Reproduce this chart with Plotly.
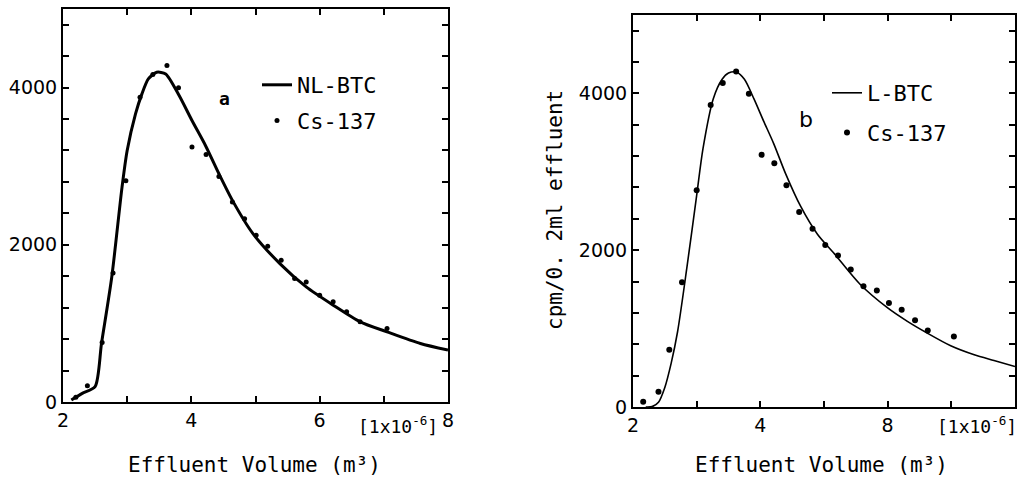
import plotly.graph_objects as go

# ---------------- data ----------------
# Panel a: NL-BTC fitted curve
a_curve_x = [2.13, 2.3, 2.5, 2.6, 2.76, 2.92, 3.0, 3.13, 3.23, 3.33, 3.46, 3.6,
             3.81, 4.01, 4.22, 4.43, 4.64, 4.96, 5.38, 5.79, 6.21, 6.63, 7.05, 7.57, 8.0]
a_curve_y = [25, 110, 195, 745, 1591, 2734, 3200, 3666, 3920, 4111, 4195, 4174,
             3899, 3581, 3264, 2904, 2565, 2142, 1761, 1464, 1232, 1020, 893, 745, 660]
# Panel a: Cs-137 measured points
a_pts_x = [2.2, 2.38, 2.61, 2.78, 2.98, 3.2, 3.4, 3.62, 3.8, 4.01, 4.23, 4.43, 4.64,
           4.83, 5.01, 5.19, 5.4, 5.61, 5.79, 6.0, 6.21, 6.42, 6.63, 7.05]
a_pts_y = [60, 207, 758, 1642, 2815, 3877, 4166, 4280, 3997, 3243, 3150, 2870, 2544,
           2333, 2121, 1981, 1803, 1571, 1528, 1359, 1274, 1147, 1020, 936]

# Panel b: L-BTC fitted curve
b_curve_x = [2.2, 2.3, 2.4, 2.5, 2.6, 2.7, 2.85, 3.0, 3.1, 3.26, 3.4, 3.5, 3.63, 3.75,
             3.9, 4.05, 4.21, 4.4, 4.63, 4.9, 5.15, 5.57, 6.0, 6.31, 6.62, 6.99,
             7.36, 7.67, 8.0]
b_curve_y = [0, 5, 60, 250, 560, 960, 1800, 2700, 3300, 3930, 4180, 4260, 4270, 4180,
             3930, 3650, 3360, 2970, 2564, 2200, 1967, 1562, 1263, 1092, 943, 781,
             666, 593, 516]
# Panel b: Cs-137 measured points
b_pts_x = [2.16, 2.4, 2.57, 2.77, 3.0, 3.22, 3.41, 3.62, 3.82, 4.02, 4.22, 4.41, 4.61,
           4.82, 5.02, 5.22, 5.42, 5.62, 5.83, 6.02, 6.22, 6.43, 6.63, 7.04]
b_pts_y = [68, 196, 730, 1591, 2765, 3853, 4134, 4279, 3994, 3217, 3110, 2829, 2487,
           2274, 2065, 1933, 1754, 1540, 1485, 1327, 1242, 1105, 977, 900]

x_tickvals = [2, 4, 6, 8]
a_x_ticktext = ["2", "4", "6", "8"]
b_x_ticktext = ["2", "4", "8", "8"]
y_tickvals = [0, 2000, 4000]
y_ticktext = ["0", "2000", "4000"]

MONO = "DejaVu Sans Mono"
SANS = "DejaVu Sans"

W, H = 1019, 480


def px(xs):
    return xs / W


def py(ys):
    return 1 - ys / H


fig = go.Figure()

fig.add_trace(go.Scatter(x=a_curve_x, y=a_curve_y, mode="lines", name="NL-BTC",
                         line=dict(color="black", width=3, shape="spline", smoothing=0.7),
                         xaxis="x", yaxis="y", legend="legend", legendgroup="a1"))
fig.add_trace(go.Scatter(x=a_pts_x, y=a_pts_y, mode="markers", name="Cs-137",
                         marker=dict(color="black", size=5),
                         xaxis="x", yaxis="y", legend="legend", legendgroup="a2"))
fig.add_trace(go.Scatter(x=b_curve_x, y=b_curve_y, mode="lines", name="L-BTC",
                         line=dict(color="black", width=1.6, shape="spline", smoothing=0.8),
                         xaxis="x2", yaxis="y2", legend="legend2", legendgroup="b1"))
fig.add_trace(go.Scatter(x=b_pts_x, y=b_pts_y, mode="markers", name="Cs-137",
                         marker=dict(color="black", size=6),
                         xaxis="x2", yaxis="y2", legend="legend2", legendgroup="b2"))

ax_common = dict(showline=True, linewidth=2, linecolor="black", mirror="ticks",
                 ticks="inside", ticklen=6, tickwidth=1.5, tickcolor="black",
                 showgrid=False, zeroline=False, automargin=False,
                 tickfont=dict(family=SANS, size=19, color="black"))
x_minor = dict(tick0=2, dtick=1, ticks="inside", ticklen=6, tickwidth=1.5,
               tickcolor="black", showgrid=False)
y_minor = dict(tick0=0, dtick=400, ticks="inside", ticklen=6, tickwidth=1.5,
               tickcolor="black", showgrid=False)

fig.update_layout(
    width=W, height=H,
    margin=dict(l=0, r=0, t=0, b=0, pad=0, autoexpand=False),
    paper_bgcolor="white", plot_bgcolor="white",
    xaxis=dict(domain=[px(63), px(448)], range=[2, 8], anchor="y",
               tickvals=x_tickvals, ticktext=a_x_ticktext, minor=x_minor, **ax_common),
    yaxis=dict(domain=[py(402), py(9)], range=[0, 5000], anchor="x",
               tickvals=y_tickvals, ticktext=y_ticktext, minor=y_minor, **ax_common),
    xaxis2=dict(domain=[px(633), px(1015)], range=[2, 8], anchor="y2",
                tickvals=x_tickvals, ticktext=b_x_ticktext, minor=x_minor, **ax_common),
    yaxis2=dict(domain=[py(407), py(15)], range=[0, 5000], anchor="x2",
                tickvals=y_tickvals, ticktext=y_ticktext, minor=y_minor, **ax_common),
    legend=dict(x=px(257), y=py(64), xanchor="left", yanchor="top",
                bgcolor="rgba(0,0,0,0)", tracegroupgap=4,
                font=dict(family=MONO, size=22, color="black")),
    legend2=dict(x=px(827), y=py(72), xanchor="left", yanchor="top",
                 bgcolor="rgba(0,0,0,0)", tracegroupgap=8,
                 font=dict(family=MONO, size=22, color="black")),
    showlegend=True,
)

ann_font = dict(family=MONO, size=21, color="black")
fig.add_annotation(text="Effluent Volume (m³)", xref="paper", yref="paper",
                   x=px(254), y=py(465), xanchor="center", yanchor="middle",
                   showarrow=False, font=ann_font)
fig.add_annotation(text="Effluent Volume (m³)", xref="paper", yref="paper",
                   x=px(821), y=py(465), xanchor="center", yanchor="middle",
                   showarrow=False, font=ann_font)
fig.add_annotation(text="[1x10<sup>-6</sup>]", xref="paper", yref="paper",
                   x=px(440), y=py(425), xanchor="right", yanchor="middle", showarrow=False,
                   font=dict(family=MONO, size=18, color="black"))
fig.add_annotation(text="[1x10<sup>-6</sup>]", xref="paper", yref="paper",
                   x=px(1019), y=py(425), xanchor="right", yanchor="middle", showarrow=False,
                   font=dict(family=MONO, size=18, color="black"))
fig.add_annotation(text="cpm/0. 2ml effluent", xref="paper", yref="paper",
                   x=px(555), y=py(210), xanchor="center", yanchor="middle",
                   textangle=-90, showarrow=False, font=ann_font)
fig.add_annotation(text="<b>a</b>", xref="x", yref="y", x=4.51, y=3860,
                   showarrow=False, font=dict(family=MONO, size=18, color="black"))
fig.add_annotation(text="b", xref="x2", yref="y2", x=4.71, y=3670,
                   showarrow=False, font=dict(family=SANS, size=22, color="black"))

fig.write_html(
    "out.html",
    config={"displayModeBar": False},
    post_script="document.documentElement.style.margin='0';"
                "document.body.style.margin='0';"
                "document.body.style.overflow='hidden';",
)
